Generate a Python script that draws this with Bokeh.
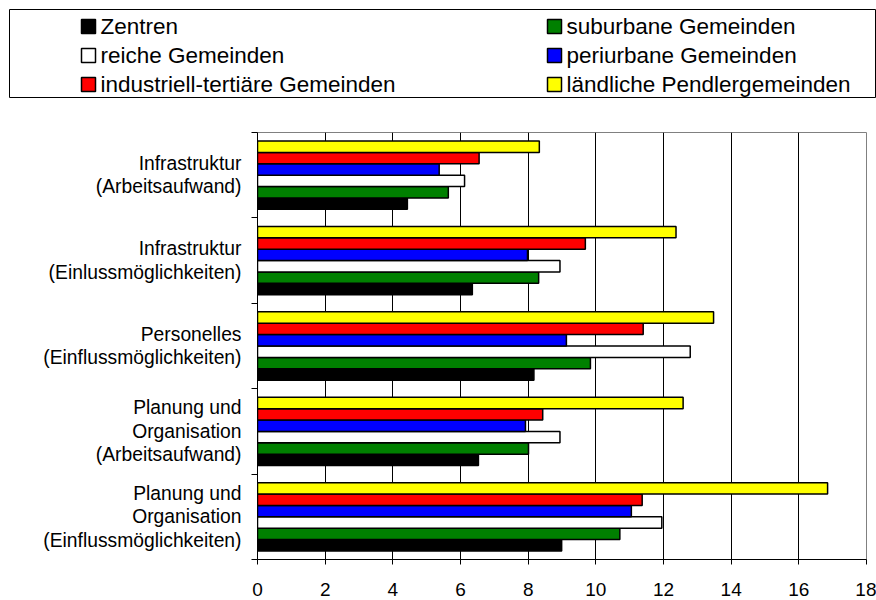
from bokeh.plotting import figure
from bokeh.layouts import column
from bokeh.models import Range1d, FixedTicker, ColumnDataSource
from bokeh.embed import file_html
from bokeh.resources import INLINE
from bokeh.core.properties import value

# ---- data (categories listed bottom -> top, as in the chart) ----
categories = [
    "Planung und\nOrganisation\n(Einflussmöglichkeiten)",
    "Planung und\nOrganisation\n(Arbeitsaufwand)",
    "Personelles\n(Einflussmöglichkeiten)",
    "Infrastruktur\n(Einlussmöglichkeiten)",
    "Infrastruktur\n(Arbeitsaufwand)",
]
series_names = [
    "Zentren",
    "suburbane Gemeinden",
    "reiche Gemeinden",
    "periurbane Gemeinden",
    "industriell-tertiäre Gemeinden",
    "ländliche Pendlergemeinden",
]
series_colors = ["#000000", "#008000", "#FFFFFF", "#0000FF", "#FF0000", "#FFFF00"]

zentren = [8.99, 6.53, 8.17, 6.35, 4.43]
suburbane = [10.71, 8.01, 9.84, 8.31, 5.64]
reiche = [11.95, 8.94, 12.79, 8.94, 6.12]
periurbane = [11.05, 7.92, 9.13, 7.98, 5.37]
industriell = [11.37, 8.43, 11.40, 9.69, 6.55]
laendliche = [16.85, 12.58, 13.48, 12.37, 8.33]
series_values = [zentren, suburbane, reiche, periurbane, industriell, laendliche]

x_ticks = [0, 2, 4, 6, 8, 10, 12, 14, 16, 18]

FONT = "Liberation Sans"
W = 876
TOP_H = 100
MAIN_H = 500

# ---- legend panel: framed box, two columns, series in row-wise order ----
box_l, box_t, box_b = 9, 9, 97
t = figure(width=W, height=TOP_H, x_range=Range1d(box_l, W), y_range=Range1d(box_b, box_t),
           output_backend="svg", toolbar_location=None,
           min_border_left=box_l, min_border_right=0, min_border_top=box_t,
           min_border_bottom=TOP_H - box_b)
t.frame_align = False
t.axis.visible = False
t.grid.visible = False
t.outline_line_color = "black"
t.outline_line_width = 1

col_marker_left = [81, 547]
row_center = [26, 55, 84]
sq = 14
lx, ly, tx = [], [], []
for i in range(len(series_names)):
    c, r = i % 2, i // 2
    lx.append(col_marker_left[c] + sq / 2)
    ly.append(row_center[r])
    tx.append(col_marker_left[c] + sq + 5)
leg = ColumnDataSource(dict(x=lx, y=ly, tx=tx, text=series_names, color=series_colors))
t.scatter(x="x", y="y", source=leg, marker="square", size=sq, fill_color="color",
          line_color="black", line_width=1.5)
t.text(x="tx", y="y", text="text", source=leg, text_font=value(FONT),
       text_font_size="22.5px", text_baseline="middle", text_align="left", text_color="black")

# ---- main chart ----
p = figure(width=W, height=MAIN_H, x_range=Range1d(0, 18), y_range=Range1d(0, len(categories)),
           output_backend="svg", toolbar_location=None,
           min_border_left=257, min_border_right=10, min_border_top=32, min_border_bottom=41)
p.frame_align = False

n = len(series_names)
bar_h = 0.8 / n
for k in range(n):
    ys = [i + 0.1 + bar_h * (k + 0.5) for i in range(len(categories))]
    src = ColumnDataSource(dict(y=ys, right=series_values[k]))
    p.hbar(y="y", left=0, right="right", height=bar_h, source=src,
           fill_color=series_colors[k], line_color="black", line_width=1.5)

p.xaxis.ticker = FixedTicker(ticks=x_ticks)
p.xaxis.major_tick_out = 5
p.xaxis.major_tick_in = 0
p.xaxis.minor_tick_out = 0
p.xaxis.axis_line_color = "black"
p.xaxis.major_tick_line_color = "black"
p.xaxis.major_label_text_font = FONT
p.xaxis.major_label_text_font_size = "19px"
p.xaxis.major_label_text_color = "black"
p.xaxis.major_label_standoff = 18

centers = [i + 0.5 for i in range(len(categories))]
p.yaxis.ticker = FixedTicker(ticks=centers, minor_ticks=list(range(len(categories) + 1)))
p.yaxis.major_label_overrides = {c: lab for c, lab in zip(centers, categories)}
p.yaxis.major_tick_out = 0
p.yaxis.major_tick_in = 0
p.yaxis.minor_tick_out = 6
p.yaxis.minor_tick_in = 0
p.yaxis.minor_tick_line_color = "black"
p.yaxis.axis_line_color = "black"
p.yaxis.major_label_text_font = FONT
p.yaxis.major_label_text_font_size = "19.3px"
p.yaxis.major_label_text_color = "black"
p.yaxis.major_label_text_line_height = 1.12
p.yaxis.major_label_standoff = 10

p.xgrid.ticker = FixedTicker(ticks=x_ticks)
p.xgrid.grid_line_color = "black"
p.ygrid.grid_line_color = None
p.outline_line_color = "#808080"

layout = column(t, p, spacing=0)
open("out.html", "w").write(file_html(layout, INLINE))
